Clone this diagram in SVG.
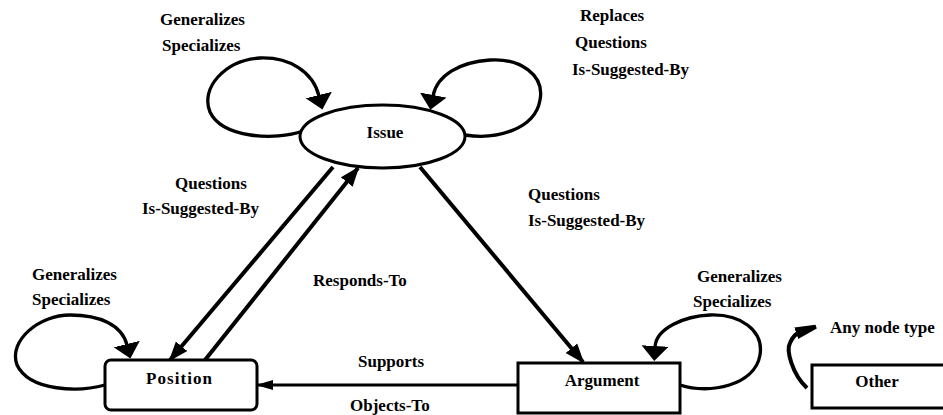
<svg xmlns="http://www.w3.org/2000/svg" width="943" height="415" viewBox="0 0 943 415">
  <style>
    text { font-family: "Liberation Serif", "Times New Roman", serif; font-weight: bold; font-size: 17px; fill: #000; }
    .node { fill: #fff; stroke: #000; stroke-width: 3; }
    .mid { text-anchor: middle; }
    .edge { fill: none; stroke: #000; stroke-width: 4; }
    .loop { fill: none; stroke: #000; stroke-width: 3.3; }
  </style>
  <defs>
    <marker id="loopHead" markerUnits="userSpaceOnUse" markerWidth="16" markerHeight="28" refX="1" refY="13.5" orient="auto" viewBox="0 0 16 28">
      <path d="M0,0 L15,13.5 L0,27 Z" fill="#000"/>
    </marker>
    <marker id="lineHead" markerUnits="userSpaceOnUse" markerWidth="21" markerHeight="16" refX="18" refY="8" orient="auto" viewBox="0 0 21 16">
      <path d="M0,0.5 L20,8 L0,15.5 Z" fill="#000"/>
    </marker>
    <marker id="thinHead" markerUnits="userSpaceOnUse" markerWidth="18" markerHeight="11" refX="16" refY="5" orient="auto" viewBox="0 0 18 11">
      <path d="M0,0 L17,5 L0,10 Z" fill="#000"/>
    </marker>
    <marker id="wedgeHead" markerUnits="userSpaceOnUse" markerWidth="22" markerHeight="14" refX="4" refY="7" orient="auto" viewBox="0 0 22 14">
      <path d="M0,1 L21,5 L21,9 L0,13 Z" fill="#000"/>
    </marker>
  </defs>

  <!-- relations -->
  <g id="connectors">
    <!-- Issue self-loops -->
    <path class="loop" d="M303 131 C275 141 222 138 210 112 C200 88 225 60 260 58 C290 57 313 72 319 96" marker-end="url(#loopHead)"/>
    <path class="loop" d="M465 135 C495 140 535 130 540 100 C545 75 520 58 490 60 C460 62 437 75 433 96" marker-end="url(#loopHead)"/>
    <!-- Issue <-> Position -->
    <path class="edge" d="M333 167 L170 360" marker-end="url(#lineHead)"/>
    <path class="edge" d="M205 360 L358 168" marker-end="url(#lineHead)"/>
    <!-- Issue -> Argument -->
    <path class="edge" d="M420 167 L583 362" marker-end="url(#lineHead)"/>
    <!-- Argument -> Position -->
    <path class="edge" style="stroke-width:3" d="M518 385 L257 385" marker-end="url(#thinHead)"/>
    <!-- Position self-loop -->
    <path class="loop" d="M105 385 C80 392 30 392 17 365 C8 340 40 315 70 315 C100 315 122 325 127 345" marker-end="url(#loopHead)"/>
    <!-- Argument self-loop -->
    <path class="loop" d="M680 385 C710 395 755 385 760 355 C764 330 740 314 710 315 C685 316 656 328 655 347" marker-end="url(#loopHead)"/>
    <!-- Other -> any node type -->
    <path class="edge" d="M807 388 C792 374 786 350 790 343 C793 336 797 333 800 332" marker-end="url(#wedgeHead)"/>
  </g>

  <g id="issue">
    <ellipse class="node" cx="382.5" cy="136.5" rx="82.5" ry="31.5"/>
    <text class="mid" x="385" y="138">Issue</text>
  </g>
  <g id="position">
    <rect class="node" x="105" y="360" width="152" height="50" rx="6"/>
    <text class="mid" x="179" y="384" textLength="66">Position</text>
  </g>
  <g id="argument">
    <rect class="node" x="518" y="363" width="162" height="50"/>
    <text class="mid" x="602" y="386">Argument</text>
  </g>
  <g id="other">
    <!-- box runs past the right edge of the sheet -->
    <rect class="node" x="812" y="365" width="136" height="43"/>
    <text class="mid" x="877" y="387">Other</text>
  </g>

  <g id="labels">
    <text x="160" y="25">Generalizes</text>
    <text x="162" y="51">Specializes</text>
    <text x="580" y="21">Replaces</text>
    <text x="575" y="48">Questions</text>
    <text x="572" y="75">Is-Suggested-By</text>
    <text x="175" y="189">Questions</text>
    <text x="142" y="214">Is-Suggested-By</text>
    <text x="313" y="286">Responds-To</text>
    <text x="528" y="200">Questions</text>
    <text x="528" y="226">Is-Suggested-By</text>
    <text x="32" y="280">Generalizes</text>
    <text x="32" y="305">Specializes</text>
    <text x="697" y="282">Generalizes</text>
    <text x="693" y="307">Specializes</text>
    <text x="358" y="367">Supports</text>
    <text x="350" y="411">Objects-To</text>
    <text x="830" y="333">Any node type</text>
  </g>
</svg>
